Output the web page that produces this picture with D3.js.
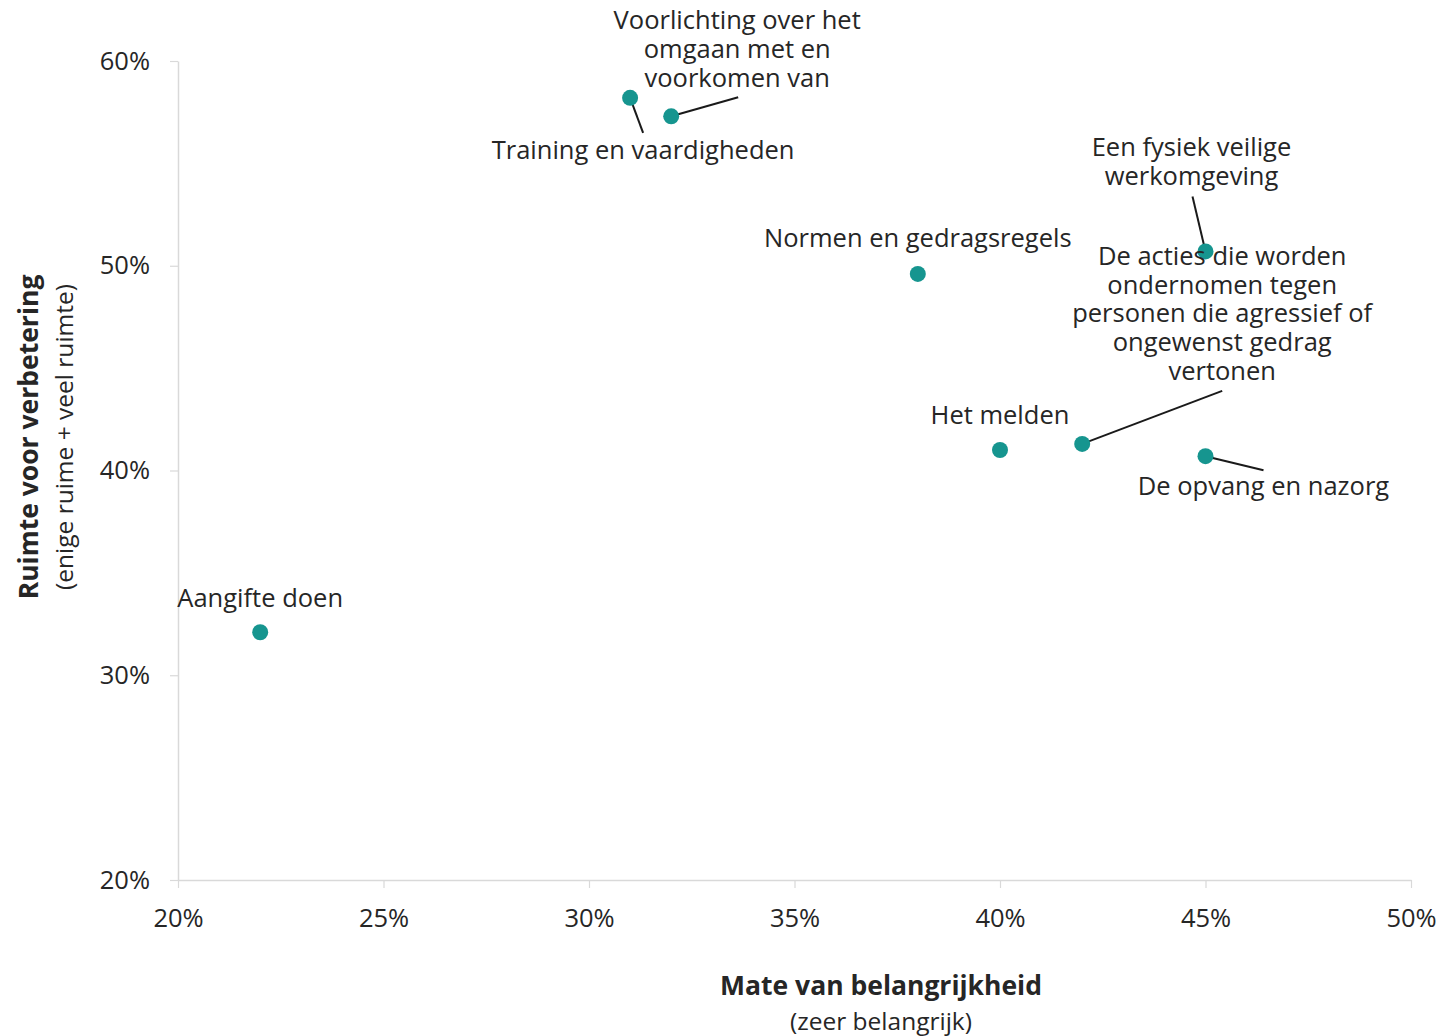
<!DOCTYPE html>
<html>
<head>
<meta charset="utf-8">
<script src="https://cdn.jsdelivr.net/npm/d3@7"></script>
<style>
  html, body { margin: 0; padding: 0; background: #fff; }
  svg { display: block; font-family: "Open Sans", "Noto Sans", sans-serif; }
</style>
</head>
<body>
<svg id="chart" width="1440" height="1036"></svg>
<script>
// ---- Data ----
const labels = [
  ["Aangifte doen"],
  ["Training en vaardigheden"],
  ["Voorlichting over het", "omgaan met en", "voorkomen van"],
  ["Normen en gedragsregels"],
  ["Een fysiek veilige", "werkomgeving"],
  ["Het melden"],
  ["De acties die worden", "ondernomen tegen", "personen die agressief of", "ongewenst gedrag", "vertonen"],
  ["De opvang en nazorg"]
];
const importance = [22, 31, 32, 38, 45, 40, 42, 45];   // x: Mate van belangrijkheid (%)
const improvement = [32.1, 58.2, 57.3, 49.6, 50.7, 41.0, 41.3, 40.7]; // y: Ruimte voor verbetering (%)
const xTicks = [20, 25, 30, 35, 40, 45, 50];
const yTicks = [20, 30, 40, 50, 60];

// ---- Label layout (pixel offsets from point) ----
const labelOffset = [
  {dx: 0, dy: -25.5},
  {dx: 13, dy: 61.5, lx: 13, ly: 35},
  {dx: 66, dy: -87, lx: 67, ly: -19},
  {dx: 0, dy: -26.5},
  {dx: -14, dy: -95, lx: -13, ly: -55},
  {dx: 0, dy: -26.5},
  {dx: 140, dy: -179, lx: 140, ly: -53},
  {dx: 58, dy: 38.5, lx: 58, ly: 14}
];

const svg = d3.select("#chart");
const mLeft = 178, mRight = 1411, mTop = 61, mBottom = 880;
const x = d3.scaleLinear().domain([20, 50]).range([mLeft, mRight]);
const y = d3.scaleLinear().domain([20, 60]).range([mBottom, mTop]);
const axisColor = "#d9d9d9";
const textColor = "#262626";
const fs = 25.5;

// X axis
const xAxis = svg.append("g").attr("transform", `translate(0,${mBottom})`)
  .call(d3.axisBottom(x).tickValues(xTicks).tickSize(8).tickSizeOuter(0).tickFormat(d => d + "%"));
xAxis.select(".domain").attr("stroke", axisColor).attr("stroke-width", 1.5);
xAxis.selectAll(".tick line").attr("stroke", axisColor).attr("stroke-width", 1.2);
xAxis.selectAll(".tick text").attr("fill", textColor).attr("font-size", fs)
  .attr("font-family", "'Open Sans', sans-serif").attr("dy", null).attr("y", 47);

// Y axis
const yAxis = svg.append("g").attr("transform", `translate(${mLeft},0)`)
  .call(d3.axisLeft(y).tickValues(yTicks).tickSize(8).tickSizeOuter(0).tickFormat(d => d + "%"));
yAxis.select(".domain").attr("stroke", axisColor).attr("stroke-width", 1.5);
yAxis.selectAll(".tick line").attr("stroke", axisColor).attr("stroke-width", 1.2);
yAxis.selectAll(".tick text").attr("fill", textColor).attr("font-size", fs)
  .attr("font-family", "'Open Sans', sans-serif").attr("x", -28).attr("dy", "0.32em");

// Axis titles
svg.append("text").attr("x", 881).attr("y", 995).attr("text-anchor", "middle")
  .attr("font-size", 26.5).attr("font-weight", "bold").attr("fill", textColor)
  .text("Mate van belangrijkheid");
svg.append("text").attr("x", 881).attr("y", 1030).attr("text-anchor", "middle")
  .attr("font-size", 24.5).attr("fill", textColor)
  .text("(zeer belangrijk)");
svg.append("text").attr("transform", "translate(38,437) rotate(-90)").attr("text-anchor", "middle")
  .attr("font-size", 26.5).attr("font-weight", "bold").attr("fill", textColor)
  .text("Ruimte voor verbetering");
svg.append("text").attr("transform", "translate(73,437) rotate(-90)").attr("text-anchor", "middle")
  .attr("font-size", 24.5).attr("fill", textColor)
  .text("(enige ruime + veel ruimte)");

const pts = labels.map((l, i) => ({lines: l, x: importance[i], y: improvement[i], off: labelOffset[i]}));

// Leader lines
svg.append("g").selectAll("line").data(pts.filter(d => d.off.lx !== undefined)).join("line")
  .attr("x1", d => x(d.x)).attr("y1", d => y(d.y))
  .attr("x2", d => x(d.x) + d.off.lx).attr("y2", d => y(d.y) + d.off.ly)
  .attr("stroke", "#1a1a1a").attr("stroke-width", 2);

// Points
svg.append("g").selectAll("circle").data(pts).join("circle")
  .attr("cx", d => x(d.x)).attr("cy", d => y(d.y)).attr("r", 8)
  .attr("fill", "#16958f");

// Labels
const lbl = svg.append("g").selectAll("text").data(pts).join("text")
  .attr("text-anchor", "middle").attr("font-size", fs).attr("fill", textColor)
  .attr("x", d => x(d.x) + d.off.dx).attr("y", d => y(d.y) + d.off.dy);
lbl.selectAll("tspan").data(d => d.lines.map(t => ({t, cx: x(d.x) + d.off.dx}))).join("tspan")
  .attr("x", d => d.cx).attr("dy", (d, i) => i === 0 ? 0 : 28.7).text(d => d.t);
</script>
</body>
</html>
